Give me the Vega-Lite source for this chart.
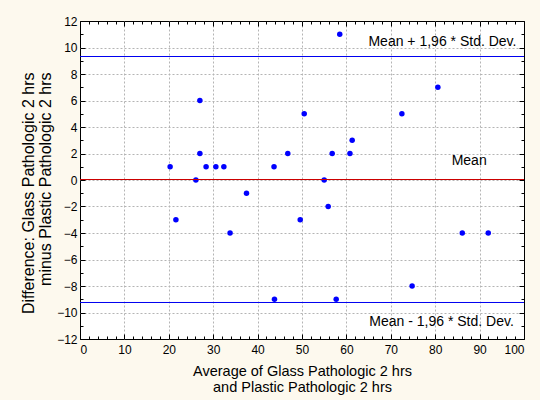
{
  "$schema": "https://vega.github.io/schema/vega-lite/v6.json",
  "width": 444,
  "height": 318,
  "autosize": {"type": "none"},
  "padding": {"left": 80, "top": 21, "right": 16, "bottom": 61},
  "background": "#fdf9ee",
  "config": {
    "font": "Liberation Sans",
    "view": {"fill": "white", "stroke": "black", "strokeWidth": 1},
    "axis": {
      "labelFont": "Liberation Sans",
      "titleFont": "Liberation Sans",
      "labelFontSize": 12,
      "titleFontSize": 15,
      "titleLineHeight": 15,
      "titleFontWeight": "normal",
      "labelColor": "#000000",
      "titleColor": "#000000",
      "domain": false,
      "ticks": true,
      "tickColor": "#000000",
      "tickWidth": 1,
      "gridColor": "#b4b4b4",
      "gridDash": [2, 2],
      "gridWidth": 1
    }
  },
  "resolve": {"axis": {"x": "independent", "y": "independent"}},
  "layer": [
    {
      "data": {
        "values": [
          {"avg": 20.3, "diff": 1},
          {"avg": 21.6, "diff": -3},
          {"avg": 26.1, "diff": 0},
          {"avg": 27.0, "diff": 6},
          {"avg": 27.0, "diff": 2},
          {"avg": 28.4, "diff": 1},
          {"avg": 30.6, "diff": 1},
          {"avg": 32.4, "diff": 1},
          {"avg": 33.8, "diff": -4},
          {"avg": 37.5, "diff": -1},
          {"avg": 43.7, "diff": 1},
          {"avg": 43.8, "diff": -9},
          {"avg": 46.8, "diff": 2},
          {"avg": 49.6, "diff": -3},
          {"avg": 50.5, "diff": 5},
          {"avg": 55.0, "diff": 0},
          {"avg": 55.9, "diff": -2},
          {"avg": 56.8, "diff": 2},
          {"avg": 57.7, "diff": -9},
          {"avg": 58.5, "diff": 11},
          {"avg": 60.8, "diff": 2},
          {"avg": 61.3, "diff": 3},
          {"avg": 72.5, "diff": 5},
          {"avg": 74.8, "diff": -8},
          {"avg": 80.6, "diff": 7},
          {"avg": 86.1, "diff": -4},
          {"avg": 91.95, "diff": -4}
        ]
      },
      "mark": {"type": "point", "shape": "circle", "filled": true, "size": 30, "color": "#0000ff", "opacity": 1},
      "encoding": {
        "x": {
          "field": "avg", "type": "quantitative",
          "scale": {"domain": [0, 100], "nice": false, "zero": false},
          "axis": {
            "orient": "bottom",
            "values": [0, 10, 20, 30, 40, 50, 60, 70, 80, 90, 100],
            "tickSize": -5,
            "gridOpacity": {"condition": {"test": "datum.value > 0 && datum.value < 100", "value": 1}, "value": 0},
            "labelPadding": 10,
            "grid": true,
            "title": ["Average of Glass Pathologic 2 hrs", "and Plastic Pathologic 2 hrs"],
            "titleFontSize": 14.5,
            "titleLineHeight": 16,
            "titlePadding": 9
          }
        },
        "y": {
          "field": "diff", "type": "quantitative",
          "scale": {"domain": [-12, 12], "nice": false, "zero": false},
          "axis": {
            "orient": "left",
            "values": [-12, -10, -8, -6, -4, -2, 0, 2, 4, 6, 8, 10, 12],
            "tickSize": -5,
            "gridOpacity": {"condition": {"test": "datum.value > -12 && datum.value < 12", "value": 1}, "value": 0},
            "labelPadding": 8,
            "grid": true,
            "title": ["Difference: Glass Pathologic 2 hrs", "minus Plastic Pathologic 2 hrs"],
            "titleFontSize": 16,
            "titleLineHeight": 17,
            "titleAlign": "right",
            "titleY": 51,
            "titlePadding": 3
          }
        }
      }
    },
    {
      "data": {
        "values": [
          {"line": "upper", "value": 9.32},
          {"line": "mean", "value": 0.0375},
          {"line": "lower", "value": -9.245}
        ]
      },
      "mark": {"type": "rule", "strokeWidth": 1},
      "encoding": {
        "y": {
          "field": "value", "type": "quantitative",
          "scale": {"domain": [-12, 12], "nice": false, "zero": false},
          "axis": {
            "orient": "right",
            "values": [-12, -10, -8, -6, -4, -2, 0, 2, 4, 6, 8, 10, 12],
            "tickSize": -5,
            "labels": false,
            "grid": false,
            "title": null
          }
        },
        "color": {
          "field": "line", "type": "nominal",
          "scale": {"domain": ["upper", "mean", "lower"], "range": ["#0000f0", "#cc0000", "#0000f0"]},
          "legend": null
        }
      }
    },
    {
      "data": {
        "values": [
          {"label": "Mean + 1,96 * Std. Dev.", "lx": 98.3, "ly": 10.4},
          {"label": "Mean", "lx": 91.6, "ly": 1.4},
          {"label": "Mean - 1,96 * Std. Dev.", "lx": 97.7, "ly": -10.75}
        ]
      },
      "mark": {"type": "text", "align": "right", "baseline": "middle", "fontSize": 14, "font": "Liberation Sans", "color": "#000000"},
      "encoding": {
        "text": {"field": "label"},
        "x": {
          "field": "lx", "type": "quantitative",
          "scale": {"domain": [0, 100], "nice": false, "zero": false},
          "axis": {
            "orient": "top",
            "values": [0, 10, 20, 30, 40, 50, 60, 70, 80, 90, 100],
            "tickSize": -5,
            "labels": false,
            "grid": false,
            "title": null
          }
        },
        "y": {
          "field": "ly", "type": "quantitative",
          "scale": {"domain": [-12, 12], "nice": false, "zero": false},
          "axis": {
            "orient": "right",
            "values": [-11, -9, -7, -5, -3, -1, 1, 3, 5, 7, 9, 11],
            "tickSize": -3,
            "labels": false,
            "grid": false,
            "title": null
          }
        }
      }
    },
    {
      "data": {"values": []},
      "mark": {"type": "point", "opacity": 0},
      "encoding": {
        "x": {
          "field": "avg", "type": "quantitative",
          "scale": {"domain": [0, 100], "nice": false, "zero": false},
          "axis": {
            "orient": "bottom",
            "values": [2, 4, 6, 8, 12, 14, 16, 18, 22, 24, 26, 28, 32, 34, 36, 38, 42, 44, 46, 48, 52, 54, 56, 58, 62, 64, 66, 68, 72, 74, 76, 78, 82, 84, 86, 88, 92, 94, 96, 98],
            "tickSize": -3,
            "labels": false,
            "grid": false,
            "title": null
          }
        },
        "y": {
          "field": "diff", "type": "quantitative",
          "scale": {"domain": [-12, 12], "nice": false, "zero": false},
          "axis": {
            "orient": "left",
            "values": [-11, -9, -7, -5, -3, -1, 1, 3, 5, 7, 9, 11],
            "tickSize": -3,
            "labels": false,
            "grid": false,
            "title": null
          }
        }
      }
    },
    {
      "data": {"values": []},
      "mark": {"type": "point", "opacity": 0},
      "encoding": {
        "x": {
          "field": "avg", "type": "quantitative",
          "scale": {"domain": [0, 100], "nice": false, "zero": false},
          "axis": {
            "orient": "top",
            "values": [2, 4, 6, 8, 12, 14, 16, 18, 22, 24, 26, 28, 32, 34, 36, 38, 42, 44, 46, 48, 52, 54, 56, 58, 62, 64, 66, 68, 72, 74, 76, 78, 82, 84, 86, 88, 92, 94, 96, 98],
            "tickSize": -3,
            "labels": false,
            "grid": false,
            "title": null
          }
        }
      }
    }
  ]
}
